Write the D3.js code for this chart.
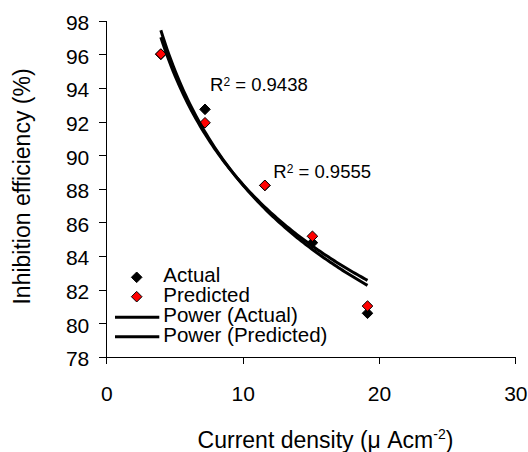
<!DOCTYPE html>
<html>
<head>
<meta charset="utf-8">
<script src="https://cdn.jsdelivr.net/npm/d3@7"></script>
<style>
  body { margin: 0; background: #fff; }
  svg { display: block; }
  text { font-family: "Liberation Sans", Arial, sans-serif; fill: #000; }
</style>
</head>
<body>
<div class="board"></div>
<script>
(function() {

  // values
  var currentDensity = [4.0, 7.24, 11.63, 15.12, 19.16];
  var actual = [96.0, 92.73, 88.2, 84.8, 80.6];
  var predicted = [96.02, 91.93, 88.21, 85.18, 81.03];
  var xTicks = [0, 10, 20, 30];
  var yTicks = [78, 80, 82, 84, 86, 88, 90, 92, 94, 96, 98];
  var r2Labels = ['0.9438', '0.9555'];
  var legendLabels = ['Actual', 'Predicted', 'Power (Actual)', 'Power (Predicted)'];

  var width = 528, height = 452;
  var left = 106.3, right = 515.3, top = 20.7, bottom = 357;

  var svg = d3.select('.board')
    .append('svg')
    .attr('width', width)
    .attr('height', height);

  var x = d3.scaleLinear().domain([0, 30]).range([left, right]);
  var y = d3.scaleLinear().domain([78, 98]).range([bottom, top]);

  // axes
  var xAxis = svg.append('g')
    .attr('transform', 'translate(0,' + bottom + ')')
    .call(d3.axisBottom(x).tickValues(xTicks).tickSize(7).tickSizeOuter(0).tickPadding(22));
  var yAxis = svg.append('g')
    .attr('transform', 'translate(' + left + ',0)')
    .call(d3.axisLeft(y).tickValues(yTicks).tickSize(7).tickSizeOuter(0).tickPadding(10));

  [xAxis, yAxis].forEach(function(a) {
    a.selectAll('path, line').attr('stroke', '#000').attr('stroke-width', 1).attr('shape-rendering', 'crispEdges');
    a.selectAll('text').style('font-size', '21px').style('font-family', '"Liberation Sans", Arial, sans-serif');
  });
  yAxis.selectAll('text').attr('dy', '0.42em');

  // axis titles
  var xt = svg.append('text')
    .attr('x', 325.5)
    .attr('y', 448)
    .style('font-size', '23px')
    .style('text-anchor', 'middle');
  xt.append('tspan').text('Current density (\u03bc Acm');
  xt.append('tspan').attr('dy', -9).style('font-size', '14px').text('-2');
  xt.append('tspan').attr('dy', 9).text(')');

  svg.append('text')
    .attr('transform', 'translate(30,186.5) rotate(-90)')
    .style('font-size', '23px')
    .style('text-anchor', 'middle')
    .text('Inhibition efficiency (%)');

  // power trendlines, least squares on log-log
  function fitPower(xs, ys) {
    var lx = xs.map(Math.log), ly = ys.map(Math.log);
    var mx = d3.mean(lx), my = d3.mean(ly);
    var sxy = d3.sum(lx, function(v, i) { return (v - mx) * (ly[i] - my); });
    var sxx = d3.sum(lx, function(v) { return (v - mx) * (v - mx); });
    var b = sxy / sxx;
    var a = Math.exp(my - b * mx);
    return function(v) { return a * Math.pow(v, b); };
  }

  var xs = d3.range(0, 101).map(function(i) {
    return d3.min(currentDensity) + (d3.max(currentDensity) - d3.min(currentDensity)) * i / 100;
  });
  var line = d3.line()
    .x(function(d) { return x(d[0]); })
    .y(function(d) { return y(d[1]); });

  var series = [
    { name: 'Actual', values: actual, fill: '#000' },
    { name: 'Predicted', values: predicted, fill: '#ff0000' }
  ];

  var diamond = d3.symbol().type(d3.symbolDiamond2).size(72);

  // markers
  series.forEach(function(s) {
    svg.append('g').selectAll('path')
      .data(s.values)
      .enter()
      .append('path')
      .attr('d', diamond)
      .attr('transform', function(d, i) { return 'translate(' + x(currentDensity[i]) + ',' + y(d) + ')'; })
      .style('fill', s.fill)
      .style('stroke', '#000')
      .style('stroke-width', 1);
  });

  // trendlines on top of the markers
  series.forEach(function(s) {
    var f = fitPower(currentDensity, s.values);
    svg.append('path')
      .datum(xs.map(function(v) { return [v, f(v)]; }))
      .attr('d', line)
      .style('fill', 'none')
      .style('stroke', '#000')
      .style('stroke-width', 3);
  });

  // R² labels
  var r2Pos = [[210, 90.7], [273.3, 178.3]];
  r2Labels.forEach(function(lbl, i) {
    var t = svg.append('text')
      .attr('x', r2Pos[i][0])
      .attr('y', r2Pos[i][1])
      .style('font-size', '18.5px');
    t.append('tspan').text('R');
    t.append('tspan').attr('dy', -5).style('font-size', '12px').text('2');
    t.append('tspan').attr('dy', 5).text(' = ' + lbl);
  });

  // legend
  var legend = svg.append('g');
  var rowY = [277.3, 296.7, 317.3, 336.7];
  legendLabels.forEach(function(lbl, i) {
    if (i < 2) {
      legend.append('path')
        .attr('d', diamond)
        .attr('transform', 'translate(136.7,' + rowY[i] + ')')
        .style('fill', series[i].fill)
        .style('stroke', '#000')
        .style('stroke-width', 1);
    } else {
      legend.append('line')
        .attr('x1', 115).attr('x2', 159.3)
        .attr('y1', rowY[i]).attr('y2', rowY[i])
        .style('stroke', '#000')
        .style('stroke-width', 3);
    }
    legend.append('text')
      .attr('x', 163.3)
      .attr('y', rowY[i] + 5)
      .style('font-size', '20.5px')
      .text(lbl);
  });

})();
</script>
</body>
</html>
